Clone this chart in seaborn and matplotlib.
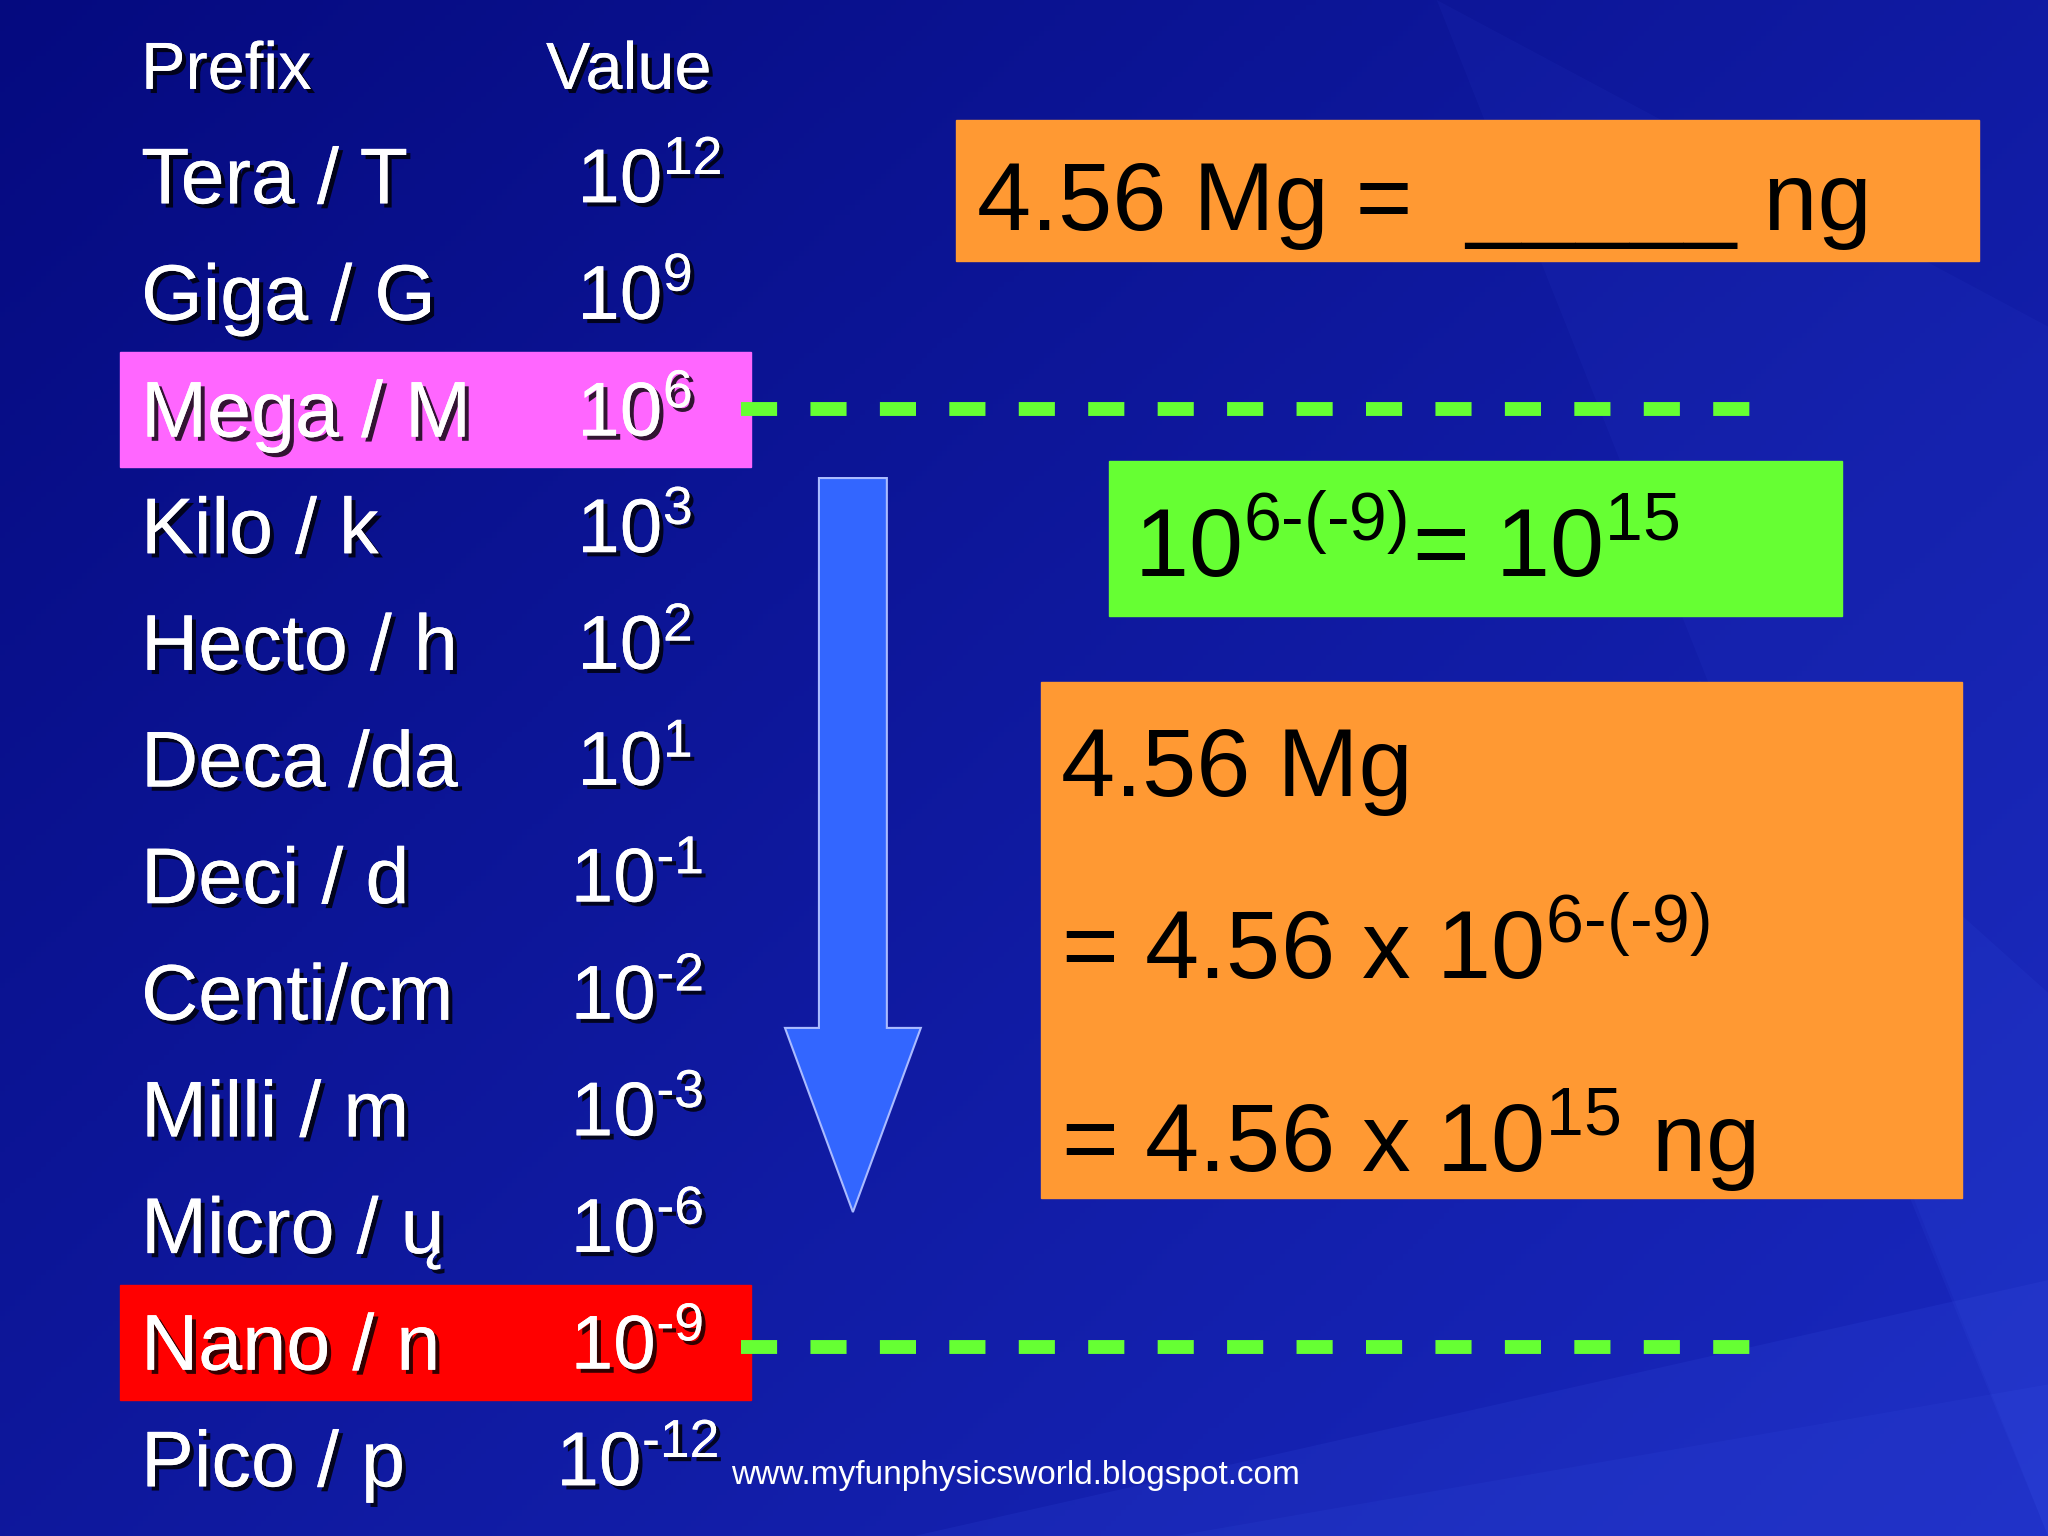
import numpy as np
import matplotlib
matplotlib.use("Agg")
import matplotlib.pyplot as plt
import seaborn as sns
import matplotlib.patheffects as pe
from matplotlib.patches import Rectangle, Polygon

sns.set_theme(style="white")
plt.rcParams['font.family'] = ['Liberation Sans', 'DejaVu Sans']
plt.rcParams['mathtext.fontset'] = 'custom'
plt.rcParams['mathtext.rm'] = 'Liberation Sans'
plt.rcParams['mathtext.it'] = 'Liberation Sans'

prefixes = ["Tera / T", "Giga / G", "Mega / M", "Kilo / k", "Hecto / h", "Deca /da",
            "Deci / d", "Centi/cm", "Milli / m", "Micro / ų", "Nano / n", "Pico / p"]
exponents = ["12", "9", "6", "3", "2", "1", "-1", "-2", "-3", "-6", "-9", "-12"]
highlight = {"Mega / M": "#ff66ff", "Nano / n": "#ff0000"}
question = r"4.56 Mg =  _____ ng"
step = r"$\mathregular{10^{6\text{-}(\text{-}9)}}$= $\mathregular{10^{15}}$"
solution = ["4.56 Mg", r"= 4.56 x $\mathregular{10^{6\text{-}(\text{-}9)}}$", r"= 4.56 x $\mathregular{10^{15}}$ ng"]
url = "www.myfunphysicsworld.blogspot.com"

W, H = 1568, 1176
fig = plt.figure(figsize=(20.48, 15.36), dpi=100)
ax = fig.add_axes([0, 0, 1, 1])
ax.set_xlim(0, W); ax.set_ylim(H, 0); ax.axis('off')

yy, xx = np.mgrid[0:1:300j, 0:1:400j]
g = 0.55 * xx + 0.45 * yy
bg = np.zeros((300, 400, 3))
bg[..., 0] = 0.02 + 0.08 * g
bg[..., 1] = 0.04 + 0.12 * g
bg[..., 2] = 0.50 + 0.25 * g
ax.imshow(bg, extent=[0, W, H, 0], aspect='auto', zorder=0)
for (x0, y0, x1, y1, a) in [(700, 1176, 1568, 980, 0.10), (900, 1176, 1568, 1060, 0.08),
                            (1100, 0, 1568, 250, 0.06), (1300, 520, 1568, 760, 0.08)]:
    ax.fill([x0, x1, x1], [y0, y1, H], color="#4a6bff", alpha=a, zorder=0.5, lw=0)

shadow = [pe.withSimplePatchShadow(offset=(3, -3), shadow_rgbFace='black', alpha=0.8), pe.Normal()]

row_y = [135 + i * 89.3 for i in range(len(prefixes))]
for name, y in zip(prefixes, row_y):
    if name in highlight:
        ax.add_patch(Rectangle((92, y - 44), 483, 88, color=highlight[name], zorder=1))

ax.text(108, 55, "Prefix", fontsize=48, color="white", va="center", path_effects=shadow, zorder=3)
ax.text(418, 55, "Value", fontsize=48, color="white", va="center", path_effects=shadow, zorder=3)
for name, ex, y in zip(prefixes, exponents, row_y):
    ax.text(108, y + 5, name, fontsize=57, color="white", va="center", path_effects=shadow, zorder=3)
    e = ex.replace("-", r"\text{-}")
    x = 442 if not ex.startswith("-") else 437
    if ex == "-12": x = 426
    ax.text(x, y + 5, r"$\mathregular{10^{%s}}$" % e, fontsize=55, color="white", va="center",
            path_effects=shadow, zorder=3)

for y in [313, 1031]:
    ax.plot([567, 1360], [y, y], color="#66ff33", lw=10, ls=(0, (2.6, 2.4)), zorder=2)

ax.add_patch(Polygon([(627, 366), (679, 366), (679, 787), (705, 787), (653, 928),
                      (601, 787), (627, 787)], closed=True, facecolor="#3366ff",
                     edgecolor="#aabbff", lw=1.5, zorder=2))

ax.add_patch(Rectangle((732, 92), 783, 108, color="#ff9933", zorder=1))
ax.text(748, 157, question, fontsize=70, color="black", va="center", zorder=3)
ax.add_patch(Rectangle((849, 353), 561, 119, color="#66ff33", zorder=1))
ax.text(868, 422, step, fontsize=70, color="black", va="center", zorder=3)
ax.add_patch(Rectangle((797, 522), 705, 395, color="#ff9933", zorder=1))
for s, y in zip(solution, [590, 730, 873]):
    ax.text(812, y, s, fontsize=70, color="black", va="center", zorder=3)

ax.text(560, 1130, url, fontsize=24, color="white", va="center", zorder=3)

fig.savefig("out.png", dpi=100)
